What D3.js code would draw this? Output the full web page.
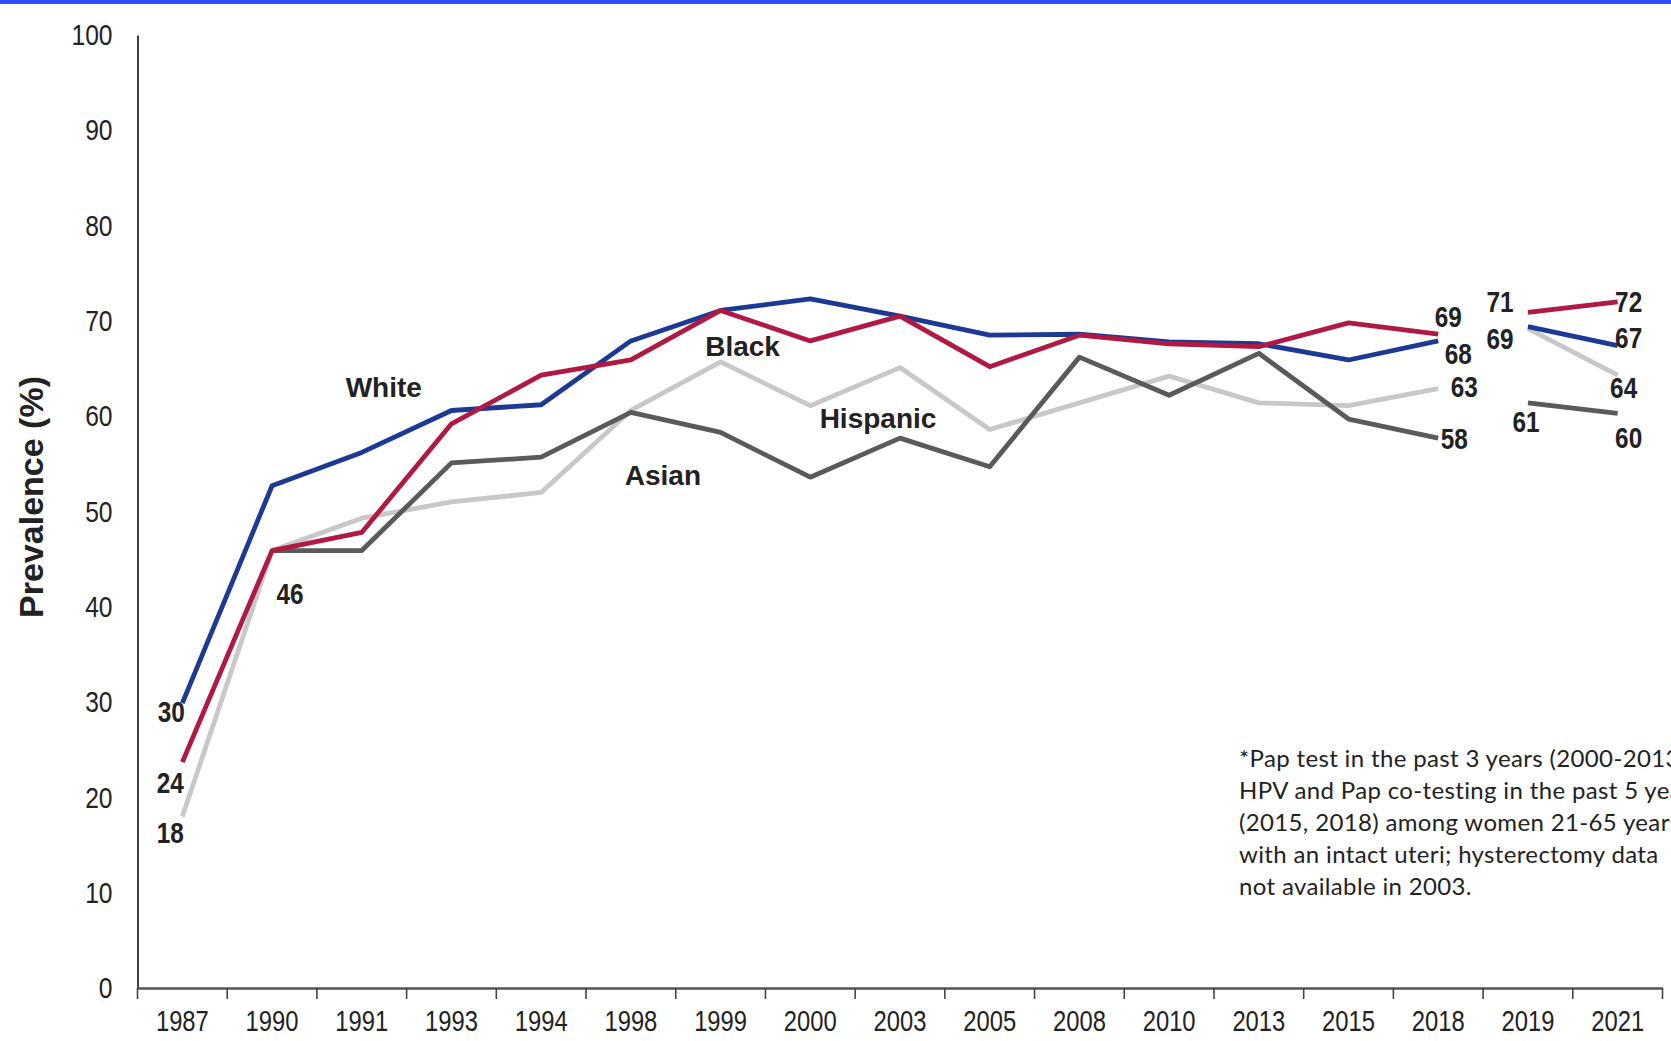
<!DOCTYPE html>
<html>
<head>
<meta charset="utf-8">
<script src="https://cdn.jsdelivr.net/npm/d3@7"></script>
<style>
body { margin: 0; background: #fff; overflow: hidden; }
svg { display: block; }
</style>
</head>
<body>
<svg id="chart" width="1671" height="1041"></svg>
<script>
var years = ["1987", "1990", "1991", "1993", "1994", "1998", "1999", "2000", "2003",
	"2005", "2008", "2010", "2013", "2015", "2018", "2019", "2021"];
var white    = [29.9, 52.7, 56.2, 60.6, 61.2, 67.9, 71.1, 72.3, 70.5, 68.5, 68.6, 67.8, 67.6, 65.9, 67.9, 69.4, 67.4];
var black    = [23.7, 45.9, 47.8, 59.2, 64.3, 65.9, 71.1, 67.9, 70.5, 65.2, 68.5, 67.6, 67.3, 69.8, 68.6, 70.9, 72.0];
var hispanic = [18.0, 45.9, 49.3, 51.0, 52.0, 60.6, 65.7, 61.1, 65.1, 58.6, 61.4, 64.2, 61.4, 61.1, 62.9, 69.2, 64.3];
var asian    = [null, 45.9, 45.9, 55.1, 55.7, 60.4, 58.3, 53.6, 57.7, 54.7, 66.2, 62.2, 66.6, 59.7, 57.7, 61.4, 60.3];
var yTicks = [0, 10, 20, 30, 40, 50, 60, 70, 80, 90, 100];
var breakAfter = "2018";

// labelled points: series, year, offset of the number
var valueLabels = [
	["white", "1987", -11, 9], ["black", "1987", -12, 20], ["hispanic", "1987", -12, 16],
	["asian", "1990", 18, 43],
	["black", "2018", 10, -18], ["white", "2018", 20, 13], ["hispanic", "2018", 26, -2], ["asian", "2018", 16, 0],
	["black", "2019", -28, -11], ["white", "2019", -28, 12], ["asian", "2019", -2, 19],
	["black", "2021", 11, 0], ["white", "2021", 11, -8], ["hispanic", "2021", 6, 12], ["asian", "2021", 11, 24]
];
var seriesNames = [
	["white", "White", "1991", 22, -65],
	["black", "Black", "1999", 22, 36],
	["hispanic", "Hispanic", "2003", -22, 50],
	["asian", "Asian", "1998", 32, 63]
];
var footnote = [
	"*Pap test in the past 3 years (2000-2013) or",
	"HPV and Pap co-testing in the past 5 years",
	"(2015, 2018) among women 21-65 years",
	"with an intact uteri; hysterectomy data",
	"not available in 2003."
];

(function () {
	var series = {
		white: {values: white, color: "#1c3a94"},
		black: {values: black, color: "#b01a42"},
		hispanic: {values: hispanic, color: "#c8c8c8"},
		asian: {values: asian, color: "#5a5a5a"}
	};
	var drawOrder = ["hispanic", "asian", "white", "black"];

	var svg = d3.select("#chart");
	var mLeft = 137.5, mRight = 1662.5, mTop = 35, mBottom = 988;
	var narrow = "'Liberation Sans', Arial, sans-serif";

	var x = d3.scaleBand().domain(years).range([mLeft, mRight]);
	var y = d3.scaleLinear().domain([0, 100]).range([mBottom, mTop]);
	var cx = function (yr) { return x(yr) + x.bandwidth() / 2; };

	// squeeze text like Arial Narrow
	function squeeze(sel, k) {
		sel.each(function () {
			var len = this.getComputedTextLength();
			d3.select(this).attr("textLength", len * k).attr("lengthAdjust", "spacingAndGlyphs");
		});
	}

	svg.append("rect")
		.attr("x", 0).attr("y", 0)
		.attr("width", 1671).attr("height", 4)
		.attr("fill", "#2c4ef4");

	// y axis
	var yAxis = svg.append("g")
		.attr("transform", "translate(" + mLeft + ",0)")
		.call(d3.axisLeft(y).tickValues(yTicks).tickSize(0).tickPadding(25));
	yAxis.select(".domain").attr("stroke", "#111").attr("stroke-width", 1.6);
	yAxis.selectAll("text")
		.style("font-family", narrow)
		.style("font-size", "30px")
		.attr("fill", "#222")
		.call(squeeze, 0.82);

	// x axis, ticks on the category boundaries
	var xAxis = svg.append("g")
		.attr("transform", "translate(0," + mBottom + ")")
		.call(d3.axisBottom(x).tickSize(0).tickPadding(22));
	xAxis.select(".domain").attr("stroke", "#555").attr("stroke-width", 2.6);
	xAxis.selectAll("text")
		.style("font-family", narrow)
		.style("font-size", "29px")
		.attr("fill", "#222")
		.call(squeeze, 0.82);
	xAxis.selectAll(".bound")
		.data(years.concat(["end"]))
		.enter().append("line")
		.attr("class", "bound")
		.attr("x1", function (d) { return d === "end" ? mRight : x(d); })
		.attr("x2", function (d) { return d === "end" ? mRight : x(d); })
		.attr("y1", 0).attr("y2", 11)
		.attr("stroke", "#444").attr("stroke-width", 1.6);

	// y title
	svg.append("text")
		.attr("transform", "translate(43,497) rotate(-90)")
		.attr("text-anchor", "middle")
		.style("font-family", "'Liberation Sans', Arial, sans-serif")
		.style("font-size", "34px")
		.style("font-weight", "bold")
		.attr("fill", "#222")
		.text("Prevalence (%)");

	// lines, broken between 2018 and 2019
	var line = d3.line()
		.defined(function (d) { return d.v != null; })
		.x(function (d) { return cx(d.year); })
		.y(function (d) { return y(d.v); });
	var cut = years.indexOf(breakAfter) + 1;

	drawOrder.forEach(function (key) {
		var s = series[key];
		var pts = years.map(function (yr, i) { return {year: yr, v: s.values[i]}; });
		[pts.slice(0, cut), pts.slice(cut)].forEach(function (seg) {
			svg.append("path")
				.datum(seg)
				.attr("d", line)
				.attr("fill", "none")
				.attr("stroke", s.color)
				.attr("stroke-width", 4.8)
				.attr("stroke-linejoin", "round");
		});
	});

	function valueOf(key, yr) { return series[key].values[years.indexOf(yr)]; }

	svg.selectAll(".val")
		.data(valueLabels)
		.enter().append("text")
		.attr("class", "val")
		.attr("x", function (d) { return cx(d[1]) + d[2]; })
		.attr("y", function (d) { return y(valueOf(d[0], d[1])) + d[3]; })
		.attr("dy", "0.36em")
		.attr("text-anchor", "middle")
		.style("font-family", narrow)
		.style("font-size", "29px")
		.style("font-weight", "bold")
		.attr("fill", "#222")
		.text(function (d) { return d3.format(".0f")(valueOf(d[0], d[1])); })
		.call(squeeze, 0.84);

	svg.selectAll(".name")
		.data(seriesNames)
		.enter().append("text")
		.attr("class", "name")
		.attr("x", function (d) { return cx(d[2]) + d[3]; })
		.attr("y", function (d) { return y(valueOf(d[0], d[2])) + d[4]; })
		.attr("dy", "0.36em")
		.attr("text-anchor", "middle")
		.style("font-family", "'Liberation Sans', Arial, sans-serif")
		.style("font-size", "28px")
		.style("font-weight", "bold")
		.attr("fill", "#222")
		.text(function (d) { return d[1]; });

	svg.append("g")
		.selectAll("text")
		.data(footnote)
		.enter().append("text")
		.attr("x", 1239)
		.attr("y", function (d, i) { return 767 + i * 32; })
		.style("font-family", "Lato, 'Open Sans', sans-serif")
		.style("font-size", "24px")
		.style("letter-spacing", "0.35px")
		.attr("fill", "#222")
		.text(function (d) { return d; });
})();
</script>
</body>
</html>
